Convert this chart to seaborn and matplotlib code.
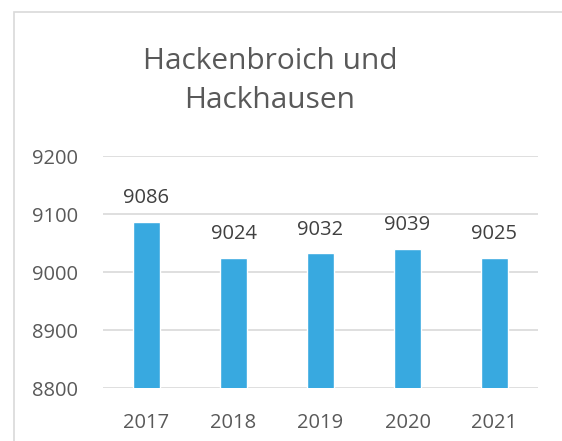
import matplotlib
matplotlib.use("Agg")
import matplotlib.pyplot as plt
import seaborn as sns
import pandas as pd
from matplotlib.patches import Rectangle

years = ["2017", "2018", "2019", "2020", "2021"]
values = [9086, 9024, 9032, 9039, 9025]
title = "Hackenbroich und\nHackhausen"

sns.set_theme(style="white")
plt.rcParams['font.family'] = ['Open Sans', 'DejaVu Sans']

W, H = 562, 441
fig = plt.figure(figsize=(W / 100, H / 100), dpi=100)
fig.patch.set_facecolor("white")

# outer chart border
fig.patches.append(Rectangle((14 / W, -0.1), 1.2, 1 - 12 / H + 0.1, transform=fig.transFigure,
                             fill=False, edgecolor="#D9D9D9", linewidth=1.2, zorder=0))

ax = fig.add_axes([103 / W, 1 - 388 / H, 435 / W, 232 / H])
df = pd.DataFrame({"year": years, "value": values})
sns.barplot(data=df, x="year", y="value", color="#38A9E0", saturation=1, width=0.31, ax=ax, zorder=3)

ax.set_ylim(8800, 9200)
ax.set_yticks([8800, 8900, 9000, 9100, 9200])
ax.grid(axis="y", color="#D9D9D9", linewidth=1.2, zorder=0)
ax.set_axisbelow(True)
for s in ax.spines.values():
    s.set_visible(False)
ax.set_xlabel("")
ax.set_ylabel("")
ax.tick_params(axis="both", length=0, labelsize=14.5, colors="#595959")
ax.tick_params(axis="y", pad=18)
ax.tick_params(axis="x", pad=18)

for c in ax.containers:
    ax.bar_label(c, labels=[str(v) for v in values], padding=10, fontsize=14.5, color="#404040")

fig.text(270 / W, 1 - 81 / H, title, ha="center", va="center", fontsize=21.5,
         color="#595959", linespacing=1.45)

fig.savefig("out.png", dpi=100)
